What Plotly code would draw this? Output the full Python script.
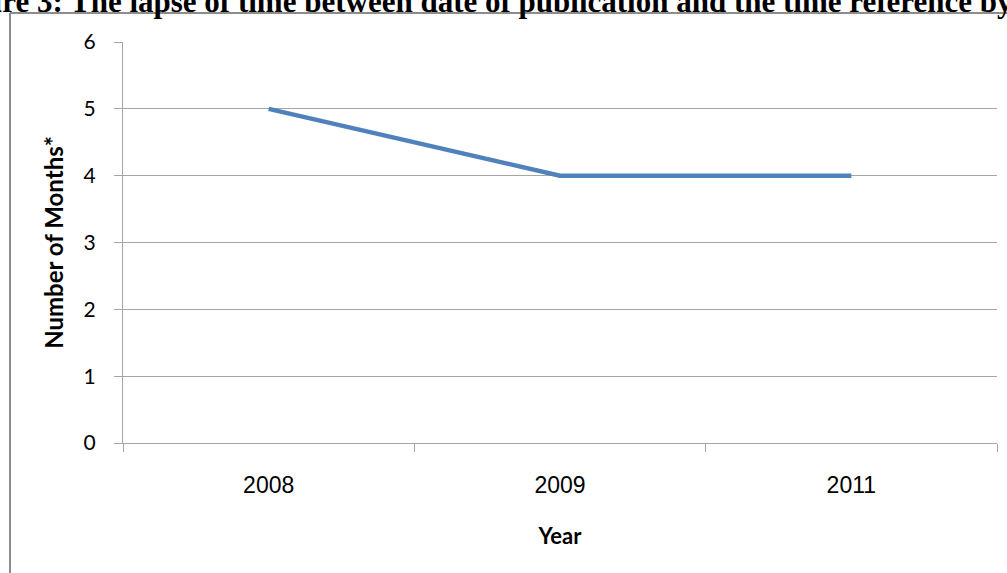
import plotly.graph_objects as go

# Chart data
years = ["2008", "2009", "2011"]
months = [5, 4, 4]
y_ticks = [0, 1, 2, 3, 4, 5, 6]

W, H = 1007, 573
ML, MR, MT, MB = 123, 10, 42, 130
PW, PH = W - ML - MR, H - MT - MB


def px_x(px):
    return (px - ML) / PW


def px_y(py):
    return (H - MB - py) / PH


fig = go.Figure()
fig.add_trace(go.Scatter(
    x=years, y=months, mode="lines",
    line=dict(color="#4F81BD", width=4.5),
    showlegend=False, hoverinfo="skip",
))

grid = "#a6a6a6"
fig.update_layout(
    width=W, height=H,
    margin=dict(l=ML, r=MR, t=MT, b=MB, pad=0),
    paper_bgcolor="white", plot_bgcolor="white",
    xaxis=dict(
        type="category", range=[-0.5, 2.5],
        tickson="boundaries", ticks="outside", ticklen=8, tickcolor=grid,
        showgrid=False, showline=True, linecolor=grid, linewidth=1,
        tickfont=dict(family="Liberation Sans, Arial", size=23, color="#000"),
        ticklabelstandoff=21,
        title=dict(text="<b>Year</b>", font=dict(family="Lato, Open Sans", size=22, color="#000"),
                   standoff=32),
    ),
    yaxis=dict(
        range=[0, 6], tickvals=y_ticks, ticks="outside", ticklen=8, tickcolor=grid,
        showgrid=True, gridcolor=grid, gridwidth=1,
        showline=True, linecolor=grid, linewidth=1,
        zeroline=False,
        tickfont=dict(family="Lato, Open Sans", size=21, color="#000"),
        ticklabelstandoff=14,
        title=dict(text="<b>Number of Months*</b>", font=dict(family="Lato, Open Sans", size=24, color="#000"),
                   standoff=13),
    ),
)

# Outer chart frame
fig.add_shape(type="line", xref="paper", yref="paper",
              x0=px_x(10), x1=px_x(1010), y0=px_y(13), y1=px_y(13),
              line=dict(color="#8c8c8c", width=2))
fig.add_shape(type="line", xref="paper", yref="paper",
              x0=px_x(10), x1=px_x(10), y0=px_y(13), y1=px_y(580),
              line=dict(color="#8c8c8c", width=2))

# Figure caption above the chart
fig.add_annotation(
    text="<b>Figure 3: The lapse of time between date of publication and the time reference by</b>",
    xref="paper", yref="paper", x=px_x(-60), y=px_y(21),
    xanchor="left", yanchor="bottom", showarrow=False,
    font=dict(family="Liberation Serif, Times New Roman", size=31, color="#000"),
)

fig.write_html("out.html")
